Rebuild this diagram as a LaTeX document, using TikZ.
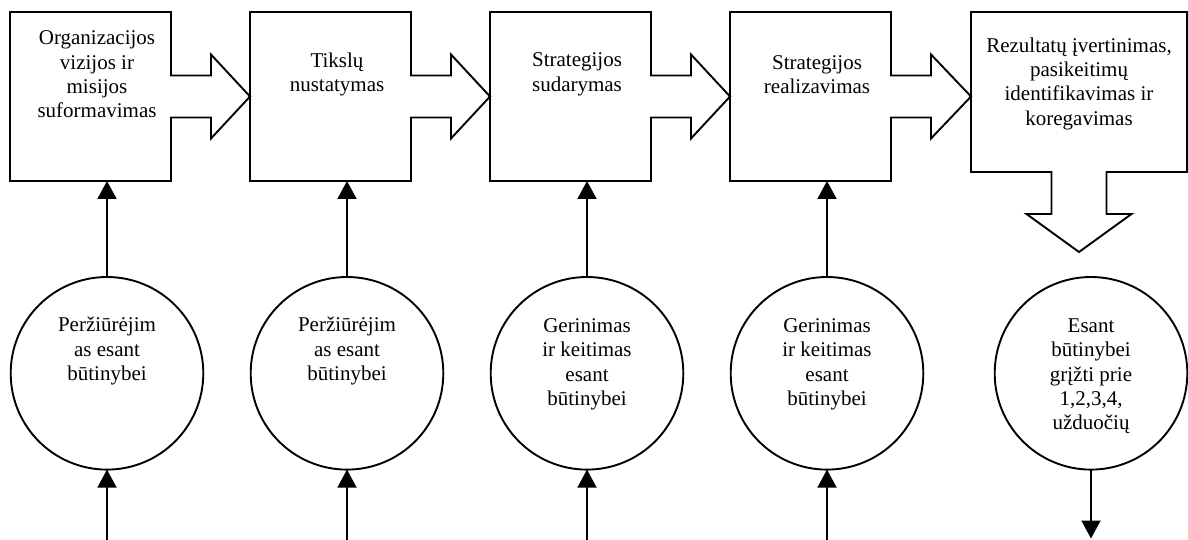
\documentclass[tikz,border=0pt]{standalone}
\usepackage{fontspec}
\setmainfont{Liberation Serif}
\usetikzlibrary{arrows.meta,calc}
\begin{document}
\begin{tikzpicture}[x=1pt,y=-1pt,
  outline/.style={draw=black,line width=1.9pt,line join=miter},
  frame/.style={rectangle,inner sep=0pt,outer sep=0pt,anchor=north west},
  txt/.style={align=center,inner sep=0pt,font=\fontsize{21}{24.4}\selectfont},
  bubble/.style={circle,draw=black,line width=1.9pt,minimum size=192.6pt,inner sep=0pt,outer sep=0pt},
  link/.style={line width=1.9pt,-{Triangle[width=19pt,length=18pt]}}]
\useasboundingbox (0,0) rectangle (1188,540);

% stage frames
\node[frame,minimum width=161pt,minimum height=169pt] (b1) at (10,12) {};
\node[frame,minimum width=161pt,minimum height=169pt] (b2) at (250,12) {};
\node[frame,minimum width=161pt,minimum height=169pt] (b3) at (490,12) {};
\node[frame,minimum width=161pt,minimum height=169pt] (b4) at (730,12) {};
\node[frame,minimum width=216pt,minimum height=160pt] (b5) at (971,12) {};

% frame outlines with block arrows to the next stage
\foreach \a/\b in {b1/b2,b2/b3,b3/b4,b4/b5}{
  \draw[outline] (\a.north west) -- (\a.north east) -- ($(\a.east)+(0,-21)$)
    -- ++(40,0) -- ++(0,-21) -- (\a.east -| \b.west) -- ($(\a.east)+(40,42)$)
    -- ++(0,-21) -- ($(\a.east)+(0,21)$) -- (\a.south east) -- (\a.south west) -- cycle;
}
\draw[outline] (b5.north west) -- (b5.north east) -- (b5.south east)
  -- ($(b5.south)+(27.5,0)$) -- ++(0,42) -- ++(25,0) -- ($(b5.south)+(0,80)$)
  -- ($(b5.south)+(-52.5,42)$) -- ++(25,0) -- ($(b5.south)+(-27.5,0)$)
  -- (b5.south west) -- cycle;

% stage texts
\node[txt] (t1) at ($(b1.north west)+(87,62.5)$) {Organizacijos\\vizijos ir\\misijos\\suformavimas};
\node[txt] (t2) at ($(b2.north west)+(87,62.5)$) {Tikslų\\nustatymas};
\node[txt] (t3) at ($(b3.north west)+(87,62.5)$) {Strategijos\\sudarymas};
\node[txt] (t4) at ($(b4.north west)+(87,62.5)$) {Strategijos\\realizavimas};
\node[txt] (t5) at ($(b5.north)+(0,71.7)$) {Rezultatų įvertinimas,\\pasikeitimų\\identifikavimas ir\\koregavimas};

% review circles
\node[bubble] (c1) at (107,373.3) {};
\node[bubble] (c2) at (347,373.3) {};
\node[bubble] (c3) at (587,373.3) {};
\node[bubble] (c4) at (827,373.3) {};
\node[bubble] (c5) at (1091,373.3) {};

\node[txt] (u1) at ($(c1)+(0,-22)$) {Peržiūrėjim\\as esant\\būtinybei};
\node[txt] (u2) at ($(c2)+(0,-22)$) {Peržiūrėjim\\as esant\\būtinybei};
\node[txt] (u3) at ($(c3)+(0,-9)$) {Gerinimas\\ir keitimas\\esant\\būtinybei};
\node[txt] (u4) at ($(c4)+(0,-9)$) {Gerinimas\\ir keitimas\\esant\\būtinybei};
\node[txt] (u5) at ($(c5)+(0,3)$) {Esant\\būtinybei\\grįžti prie\\1,2,3,4,\\užduočių};

% connectors
\coordinate (floor) at (0,540);
\coordinate (exit) at (0,538.5);
\foreach \k in {1,2,3,4}{
  \coordinate (s\k) at (c\k.south |- floor);
  \draw[link] (c\k.north) -- (c\k.north |- b\k.south);
  \draw[link] (s\k) -- (c\k.south);
}
\coordinate (s5) at (c5.south |- exit);
\draw[link] (c5.south) -- (s5);
\end{tikzpicture}
\end{document}
